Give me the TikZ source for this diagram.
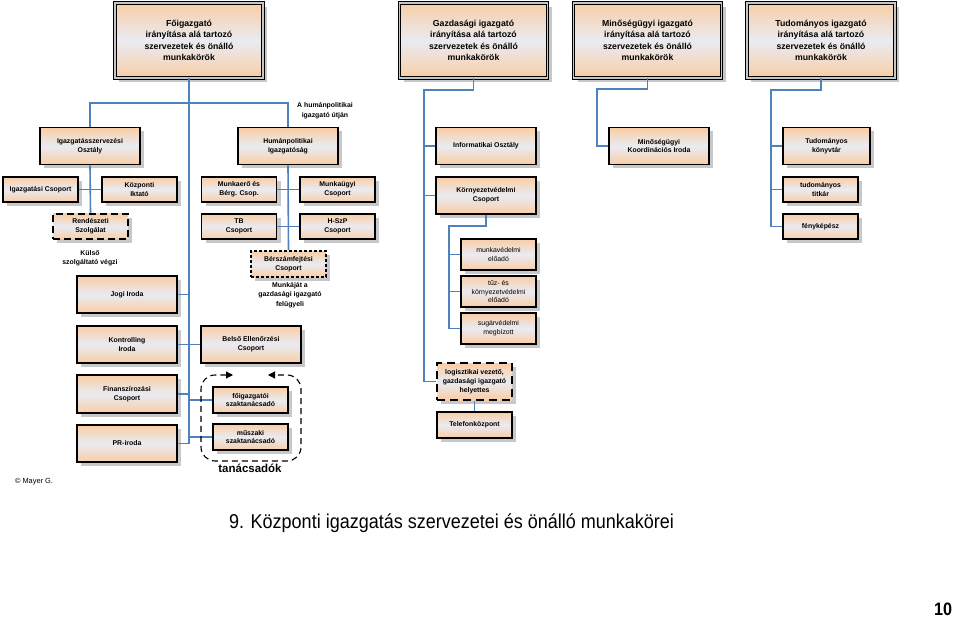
\documentclass[tikz,border=0pt]{standalone}
\usepackage{fontspec}
\setmainfont{Liberation Sans}
\newfontfamily\narrowfont[FakeStretch=0.9]{Liberation Sans}
\usetikzlibrary{shadows,arrows.meta}
\definecolor{peach}{RGB}{249,205,165}
\definecolor{midgrey}{RGB}{233,235,242}
\definecolor{linkblue}{RGB}{79,129,189}
\definecolor{shadowgrey}{RGB}{200,200,202}
\tikzset{
  unit/.style={draw=black, line width=1.6pt, top color=peach, bottom color=peach, middle color=midgrey,
    align=center, inner sep=1pt, font=\fontsize{6.9}{8.8}\selectfont\bfseries,
    general shadow={fill=shadowgrey, shadow xshift=4pt, shadow yshift=-4pt}},
  head/.style={unit, line width=1pt, double=gray!45, double distance=1.3pt,
    minimum width=148pt, minimum height=75pt, font=\fontsize{8.7}{11.5}\selectfont\bfseries},
  wide/.style={minimum width=100pt, minimum height=37pt},
  small/.style={minimum width=75pt, minimum height=25pt},
  plain/.style={font=\fontsize{6.9}{8.8}\selectfont},
  longdash/.style={line width=2pt, dash pattern=on 7pt off 4pt},
  shortdash/.style={line width=2pt, dash pattern=on 3pt off 2pt},
  link/.style={draw=linkblue, line width=1.6pt},
  note/.style={align=center, font=\fontsize{6.9}{9.5}\selectfont\bfseries},
  grp/.style={line width=1.1pt, dash pattern=on 6pt off 4pt, rounded corners=14pt}
}
\begin{document}
\begin{tikzpicture}[x=1pt,y=-1pt]
\useasboundingbox (0,0) rectangle (960,620);
\node[head] (fo) at (189,40.5) {Főigazgató\\irányítása alá tartozó\\szervezetek és önálló\\munkakörök};
\node[head] (gazd) at (473.5,40.5) {Gazdasági igazgató\\irányítása alá tartozó\\szervezetek és önálló\\munkakörök};
\node[head] (minos) at (647.5,40.5) {Minőségügyi igazgató\\irányítása alá tartozó\\szervezetek és önálló\\munkakörök};
\node[head] (tudig) at (821,40.5) {Tudományos igazgató\\irányítása alá tartozó\\szervezetek és önálló\\munkakörök};

\node[unit,wide] (igsz) at (90,146) {Igazgatásszervezési\\Osztály};
\node[unit,wide] (human) at (288,146) {Humánpolitikai\\Igazgatóság};
\node[unit,wide] (info) at (486,146) {Informatikai Osztály};
\node[unit,wide] (minko) at (659,146) {Minőségügyi\\Koordinációs Iroda};
\node[unit,wide,minimum width=87pt] (konyv) at (826.5,146) {Tudományos\\könyvtár};

\node[unit,small] (igcs) at (40.5,189.5) {Igazgatási Csoport};
\node[unit,small] (iktato) at (139.5,189.5) {Központi\\Iktató};
\node[unit,small,longdash] (rend) at (90.5,226.5) {Rendészeti\\Szolgálat};
\node[unit,small] (munkaero) at (239,189.5) {Munkaerő és\\Bérg. Csop.};
\node[unit,small] (munkaugy) at (337.5,189.5) {Munkaügyi\\Csoport};
\node[unit,small] (tb) at (239,226.5) {TB\\Csoport};
\node[unit,small] (hszp) at (337.5,226.5) {H-SzP\\Csoport};
\node[unit,small,shortdash,minimum height=26pt] (bersz) at (288.5,264) {Bérszámfejtési\\Csoport};
\node[unit,wide] (korny) at (486,195.5) {Környezetvédelmi\\Csoport};
\node[unit,small] (titkar) at (820.5,189.5) {tudományos\\titkár};
\node[unit,small] (feny) at (820.5,226.5) {fényképész};

\node[unit,small,plain,minimum height=31pt] (munkav) at (498.5,254.5) {munkavédelmi\\előadó};
\node[unit,small,plain,minimum height=31pt] (tuz) at (498.5,291.5) {tűz- és\\környezetvédelmi\\előadó};
\node[unit,small,plain,minimum height=31pt] (sugar) at (498.5,328.5) {sugárvédelmi\\megbízott};
\node[unit,small,longdash,minimum height=37pt,dash pattern=on 8pt off 5pt] (logi) at (474.5,381.5) {logisztikai vezető,\\gazdasági igazgató\\helyettes};
\node[unit,small,minimum height=26pt] (tel) at (474.5,425) {Telefonközpont};

\node[unit,wide] (jogi) at (127,294.5) {Jogi Iroda};
\node[unit,wide] (kontr) at (127,344.5) {Kontrolling\\Iroda};
\node[unit,wide] (belso) at (251,344.5) {Belső Ellenőrzési\\Csoport};
\node[unit,wide,minimum height=38pt] (fin) at (127,394) {Finanszírozási\\Csoport};
\node[unit,wide] (pr) at (127,443.5) {PR-iroda};
\node[unit,small,minimum height=26pt] (fotan) at (250.5,400) {főigazgatói\\szaktanácsadó};
\node[unit,small,minimum height=26pt] (musz) at (250.5,437) {műszaki\\szaktanácsadó};

\coordinate (fobus) at (189,103);
\coordinate (gazdbus) at (424,90);
\coordinate (kornybus) at (449,226);
\coordinate (minbus) at (597,89);
\coordinate (tudbus) at (771,90);
\draw[link] (fo.south) -- (fo.south |- pr.east);
\draw[link] (igsz.north) |- (fobus) -| (human.north);
\draw[link] (igsz.south) -- (rend.north);
\draw[link] (igcs.east) -- (iktato.west);
\draw[link] (human.south) -- (bersz.north);
\draw[link] (munkaero.east) -- (munkaugy.west);
\draw[link] (tb.east) -- (hszp.west);
\draw[link] (jogi.east) -- (jogi.east -| fo.south);
\draw[link] (kontr.east) -- (belso.west);
\draw[link] (fin.east) -- (fin.east -| fo.south);
\draw[link] (fotan.west) -- (fotan.west -| fo.south);
\draw[link] (pr.east) -- (pr.east -| fo.south);
\draw[link] (musz.west) -- (musz.west -| fo.south);
\draw[link] (gazd.south) |- (gazdbus) |- (logi.west);
\draw[link] (info.west) -- (info.west -| gazdbus);
\draw[link] (korny.west) -- (korny.west -| gazdbus);
\draw[link] (korny.south) |- (kornybus) |- (sugar.west);
\draw[link] (munkav.west) -- (munkav.west -| kornybus);
\draw[link] (tuz.west) -- (tuz.west -| kornybus);
\draw[link] (logi.south) -- (tel.north);
\draw[link] (minos.south) |- (minbus) |- (minko.west);
\draw[link] (tudig.south) |- (tudbus) |- (feny.west);
\draw[link] (konyv.west) -- (konyv.west -| tudbus);
\draw[link] (titkar.west) -- (titkar.west -| tudbus);

\draw[grp,{Triangle[length=7pt,width=7pt]}-{Triangle[length=7pt,width=7pt]}] (233,375) -- (201,375) -- (201,461) -- (301,461) -- (301,375) -- (268,375);

\node[note] (humnote) at (325,110.5) {A humánpolitikai\\igazgató útján};
\node[note] (kulso) at (90,258) {Külső\\szolgáltató végzi};
\node[note] (munkaja) at (290,295) {Munkáját a\\gazdasági igazgató\\felügyeli};
\node[font=\fontsize{11.5}{13}\selectfont\bfseries] (tanlabel) at (250,468) {tanácsadók};
\node[font=\fontsize{7.4}{9}\selectfont] (copy) at (34,482) {© Mayer G.};
\node[font=\narrowfont\fontsize{20}{22}\selectfont] (title) at (451.5,523) {9. Központi igazgatás szervezetei és önálló munkakörei};
\node[font=\narrowfont\fontsize{18}{20}\selectfont\bfseries] (pageno) at (943,609) {10};
\end{tikzpicture}
\end{document}
